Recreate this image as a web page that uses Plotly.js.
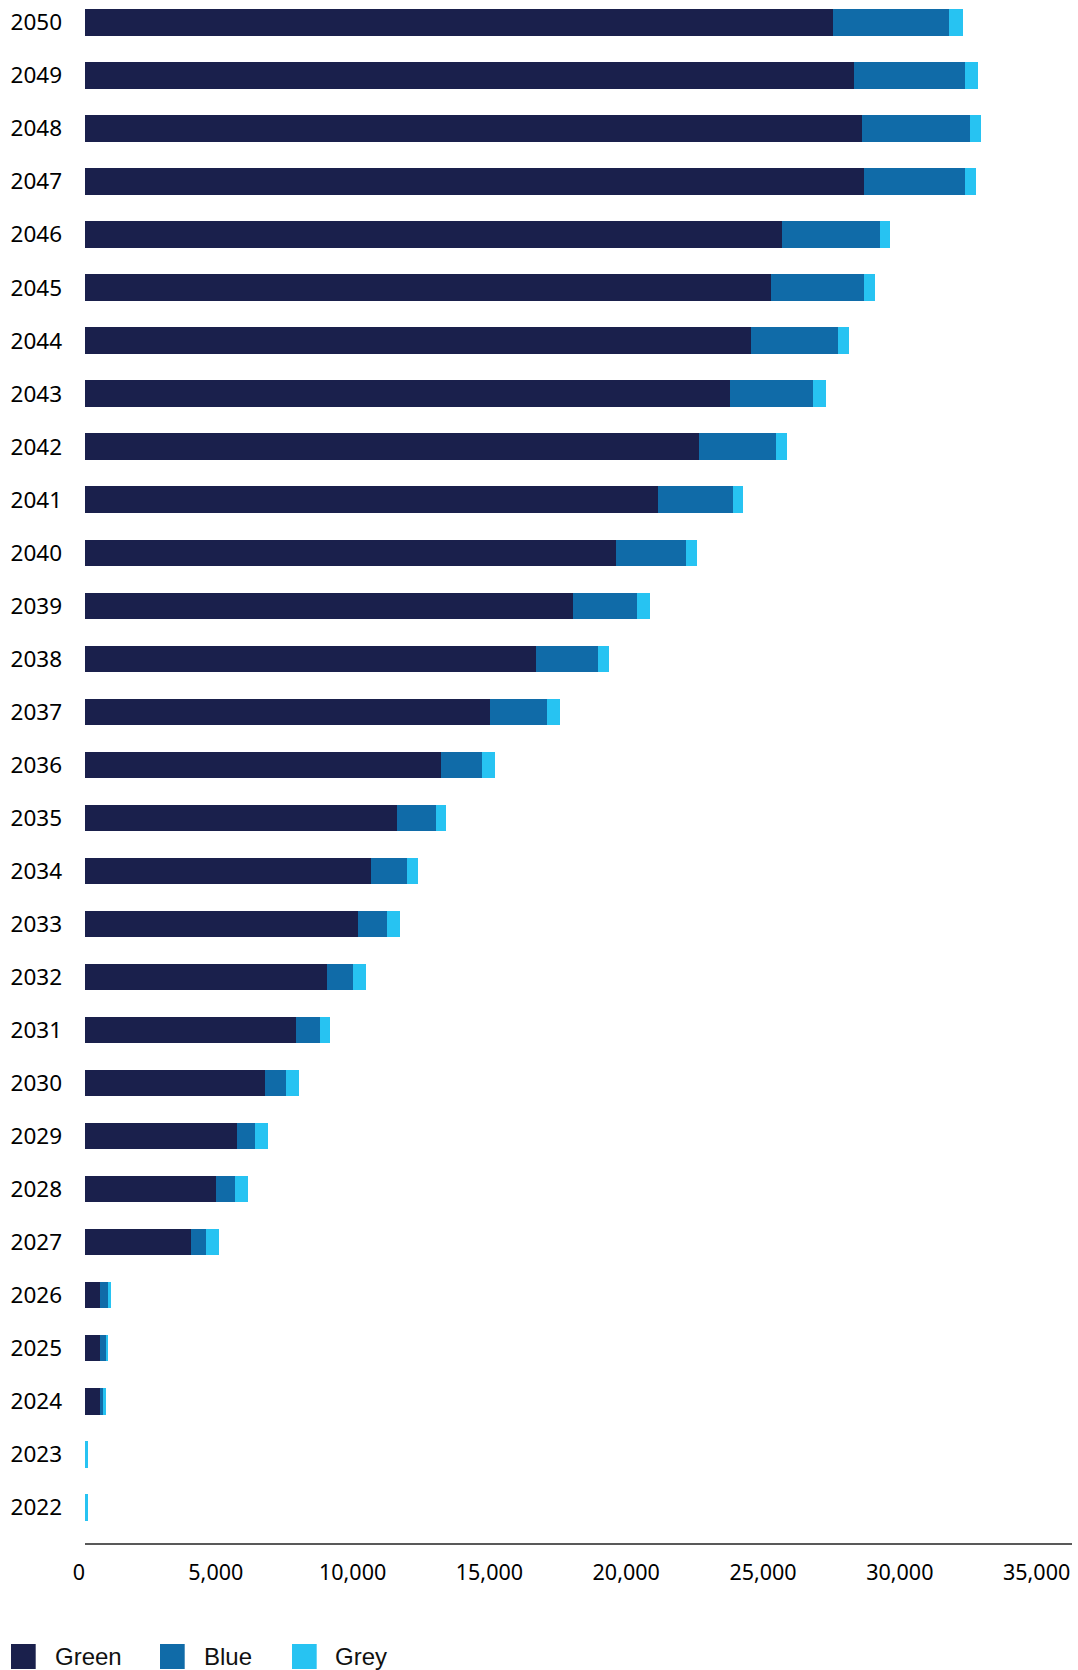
<!DOCTYPE html>
<html>
<head>
<meta charset="utf-8">
<script src="https://cdn.plot.ly/plotly-3.0.1.min.js"></script>
<style>html,body{margin:0;padding:0;background:#fff;}#chart{width:1078px;height:1670px;}</style>
</head>
<body>
<div id="chart"></div>
<script>
const years = ['2022','2023','2024','2025','2026','2027','2028','2029','2030','2031','2032','2033','2034','2035','2036','2037','2038','2039','2040','2041','2042','2043','2044','2045','2046','2047','2048','2049','2050'];
const green = [0,0,548,548,548,3874,4799,5556,6590,7723,8856,9989,10453,11404,13023,14814,16495,17836,19419,20943,22442,23586,24342,25073,25475,28483,28399,28118,27350];
const blue  = [0,0,99,208,281,548,683,658,757,866,939,1049,1327,1425,1499,2072,2266,2339,2548,2741,2825,3023,3191,3399,3582,3681,3947,4046,4240];
const grey  = [99,99,121,95,121,486,475,486,486,376,486,464,391,376,475,475,391,486,391,366,391,464,391,391,376,391,391,475,490];
const seriesNames = ['Green','Blue','Grey'];
const seriesColors = ['#1a204c','#106ba8','#27c3f2'];
const xTickVals = [0,5000,10000,15000,20000,25000,30000,35000];
const xTickText = ['0','5,000','10,000','15,000','20,000','25,000','30,000','35,000'];

const L=85, R=6, T=0, B=127, PW=1078, PH=1670;
const W=PW-L-R, H=PH-T-B;
const px = x => (x-L)/W;
const py = y => (T+H-y)/H;

const values = [green, blue, grey];
const traces = values.map((v,i)=>({
  type:'bar', orientation:'h', y:years, x:v, name:seriesNames[i],
  marker:{color:seriesColors[i], line:{width:0}},
  showlegend:false, hoverinfo:'x+y+name'
}));

const shapes = [], annotations = [];
const boxX = [11,160,292], textX = [55,204,335];
seriesNames.forEach((n,i)=>{
  shapes.push({type:'rect', xref:'paper', yref:'paper',
    x0:px(boxX[i]), x1:px(boxX[i]+24.7), y0:py(1669), y1:py(1644),
    fillcolor:seriesColors[i], line:{width:0}});
  annotations.push({xref:'paper', yref:'paper', x:px(textX[i]-2), y:py(1657),
    xanchor:'left', yanchor:'middle', showarrow:false, text:n,
    font:{family:'Liberation Sans, Arial, sans-serif', size:24, color:'#111'}});
});

const layout = {
  width:PW, height:PH,
  margin:{l:L, r:R, t:T, b:B, pad:0},
  paper_bgcolor:'#fff', plot_bgcolor:'#fff',
  barmode:'stack', bargap:0.5,
  showlegend:false,
  font:{family:'Noto Sans, sans-serif', size:22, color:'#000'},
  xaxis:{
    range:[0, W/27.36*1000], tickvals:xTickVals, ticktext:xTickText,
    showgrid:false, zeroline:false, showline:true, linecolor:'#595959', linewidth:1.5,
    ticks:'', ticklabelstandoff:10, ticklabelshift:-6,
    tickfont:{family:'Noto Sans, sans-serif', size:21.5, color:'#000'},
    automargin:false, fixedrange:true
  },
  yaxis:{
    type:'category', categoryorder:'array', categoryarray:years,
    range:[-0.673, 28.424],
    showgrid:false, zeroline:false, showline:false, ticks:'',
    ticklabelstandoff:22,
    tickfont:{family:'Noto Sans, sans-serif', size:22.5, color:'#000'},
    automargin:false, fixedrange:true
  },
  shapes:shapes, annotations:annotations
};

Plotly.newPlot('chart', traces, layout, {displayModeBar:false, staticPlot:true});
</script>
</body>
</html>
